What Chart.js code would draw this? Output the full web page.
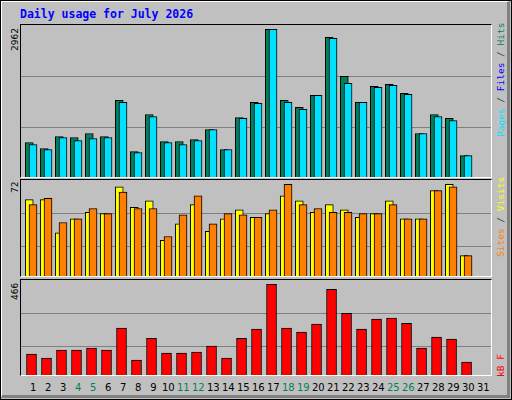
<!DOCTYPE html>
<html><head><meta charset="utf-8">
<script src="https://cdn.jsdelivr.net/npm/chart.js@4"></script>
<style>
body{margin:0;background:#C0C0C0;}
#outer{position:absolute;left:0;top:0;width:510px;height:398px;border:1px solid #000;background:#C0C0C0;}
#bevel{position:absolute;left:0;top:0;width:505px;height:393px;border-top:1px solid #fff;border-left:1px solid #fff;border-right:3px solid #808080;border-bottom:3px solid #808080;}
.panel{position:absolute;left:20px;width:470px;border-top:1px solid #000;border-left:1px solid #000;border-right:1px solid #fff;border-bottom:1px solid #fff;}
.panel canvas{position:absolute;left:0;top:0;}
.rot{position:absolute;transform:rotate(-90deg);transform-origin:0 0;white-space:pre;font-family:"DejaVu Sans Mono",monospace;font-size:9.5px;line-height:10px;}
#title{position:absolute;left:20px;top:7px;font:bold 11.5px "DejaVu Sans Mono",monospace;color:#0000FF;white-space:pre;}
.day{position:absolute;top:382px;font:10px "DejaVu Sans",sans-serif;transform:translateX(-50%);}
</style></head><body>
<div id="outer"><div id="bevel"></div></div>
<div id="title">Daily usage for July 2026</div>
<div class="panel" style="top:24px;height:152px"><canvas id="c1"></canvas></div>
<div class="panel" style="top:179px;height:96px"><canvas id="c2"></canvas></div>
<div class="panel" style="top:279px;height:95px"><canvas id="c3"></canvas></div>
<div class="rot" style="left:10px;top:51px;color:#000">2962</div>
<div class="rot" style="left:10px;top:193px;color:#000">72</div>
<div class="rot" style="left:10px;top:300px;color:#000">466</div>
<div class="rot" style="left:496px;top:137px"><span style="color:#00E0FF">Pages</span><span style="color:#404040"> / </span><span style="color:#0000FF">Files</span><span style="color:#404040"> / </span><span style="color:#00805C">Hits</span></div>
<div class="rot" style="left:496px;top:257px"><span style="color:#FF8000">Sites</span><span style="color:#404040"> / </span><span style="color:#FFFF00">Visits</span></div>
<div class="rot" style="left:496px;top:377px;color:#FF0000">kB F</div>
<div id="days"></div>
<script>
const days=[1,2,3,4,5,6,7,8,9,10,11,12,13,14,15,16,17,18,19,20,21,22,23,24,25,26,27,28,29,30,31];
const weekend=[4,5,11,12,18,19,25,26];
const hits=[692,571,812,792,872,812,1536,511,1254,712,712,752,953,551,1194,1495,2962,1536,1395,1636,2801,2018,1495,1817,1857,1676,872,1254,1174,430,null];
const files=[651,551,792,732,772,792,1495,490,1214,692,651,732,953,551,1174,1475,2962,1495,1355,1636,2781,1877,1495,1797,1837,1656,872,1214,1133,430,null];
const visits=[60,60,34,45,50,49,70,54,59,28,41,56,35,45,52,46,49,63,59,50,56,52,46,49,59,45,45,67,72,16,null];
const sites=[56,61,42,45,53,49,66,53,53,31,48,63,41,49,48,46,52,72,56,53,50,50,49,49,56,45,45,67,70,16,null];
const kbytes=[108,87,128,128,138,128,241,77,189,113,113,118,148,87,189,236,466,241,220,261,440,317,236,287,292,266,138,195,184,67,null];
const scaleMax=[3048,75.4,488];
const grid1=[997,2018], grid2=[23.3,49.2], grid3=[147,317];

Chart.defaults.animation=false;
function pts(arr,off){return days.map((d,i)=>({x:d+off,y:arr[i]}));}
function make(id,w,h,datasets,max,gridVals){
  const cv=document.getElementById(id);cv.width=w;cv.height=h;
  return new Chart(cv,{type:'bar',data:{datasets},
    options:{responsive:false,devicePixelRatio:1,layout:{padding:0},
      plugins:{legend:{display:false},tooltip:{enabled:false}},
      datasets:{bar:{grouped:false,barThickness:8,borderColor:'#000',borderWidth:1,borderSkipped:'bottom'}},
      scales:{
        x:{type:'linear',min:0.18,max:31.51,offset:false,bounds:'data',display:false},
        y:{min:0,max:max,position:'left',
           afterBuildTicks:s=>{s.ticks=gridVals.map(v=>({value:v}));},
           ticks:{display:false},border:{display:false},
           grid:{color:'#808080',lineWidth:1,drawTicks:false,tickLength:0}}
      }}});
}
make('c1',470,152,[
  {data:pts(files,-0.02),backgroundColor:'#00E0FF',order:0},
  {data:pts(hits,-0.27),backgroundColor:'#00805C',order:1}],scaleMax[0],grid1);
make('c2',470,96,[
  {data:pts(sites,-0.02),backgroundColor:'#FF8000',order:0},
  {data:pts(visits,-0.27),backgroundColor:'#FFFF00',order:1}],scaleMax[1],grid2);
const c3=make('c3',470,95,[
  {data:pts(kbytes,-0.12),backgroundColor:'#FF0000',barThickness:10}],scaleMax[2],grid3);
const host=document.getElementById('days');
days.forEach(d=>{
  const s=document.createElement('div');s.className='day';
  s.textContent=d;s.style.color=weekend.includes(d)?'#00805C':'#000';
  s.style.left=(21+c3.scales.x.getPixelForValue(d))+'px';
  host.appendChild(s);
});
</script></body></html>
